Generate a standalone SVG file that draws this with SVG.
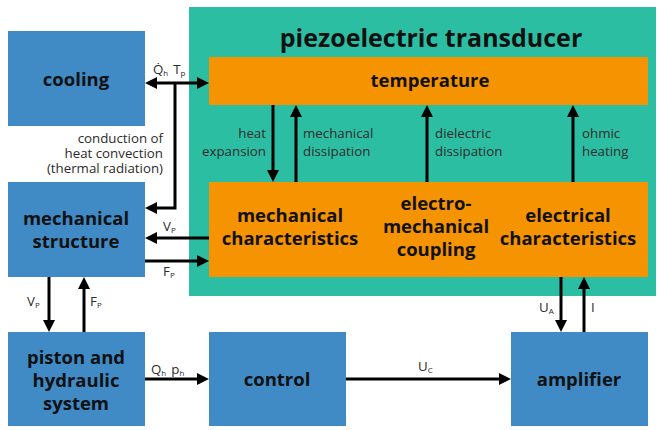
<svg xmlns="http://www.w3.org/2000/svg" width="660" height="430" viewBox="0 0 660 430">
<style>
.blue{fill:#408ac6}
.teal{fill:#2cbea3}
.orange{fill:#f59300}
.bt{font-family:"Open Sans","Noto Sans","Liberation Sans",sans-serif;font-weight:bold;font-size:18.5px;fill:#111;text-anchor:middle}
.lbl{font-family:"Open Sans","Noto Sans","Liberation Sans",sans-serif;font-size:13.3px;fill:#2b2b2b}
.sub{font-size:8px}
.ln{stroke:#000;stroke-width:3;fill:none}
.ar{marker-end:url(#ah)}
.ar2{marker-end:url(#ah);marker-start:url(#ah)}
</style>
<defs>
<marker id="ah" markerUnits="userSpaceOnUse" markerWidth="12" markerHeight="12" viewBox="0 0 12 12" refX="8" refY="6" orient="auto-start-reverse">
<path d="M0,0 L12,6 L0,12 z" fill="#000"/>
</marker>
</defs>

<g id="transducer">
<rect class="teal" x="189" y="7" width="467" height="289"/>
<text class="bt" x="431" y="47" style="font-size:25px">piezoelectric transducer</text>
</g>
<g id="temperature">
<rect class="orange" x="209" y="57" width="439" height="48"/>
<text class="bt" x="430" y="87">temperature</text>
</g>
<g id="characteristics">
<rect class="orange" x="209" y="182" width="439" height="95"/>
<text class="bt" x="290" y="222">mechanical</text>
<text class="bt" x="290" y="245">characteristics</text>
<text class="bt" x="436" y="210">electro-</text>
<text class="bt" x="436" y="233">mechanical</text>
<text class="bt" x="436" y="256">coupling</text>
<text class="bt" x="568" y="222">electrical</text>
<text class="bt" x="568" y="245">characteristics</text>
</g>
<g id="cooling">
<rect class="blue" x="8" y="31" width="137" height="95"/>
<text class="bt" x="76" y="86">cooling</text>
</g>
<g id="mechanical-structure">
<rect class="blue" x="8" y="182" width="137" height="95"/>
<text class="bt" x="76" y="225">mechanical</text>
<text class="bt" x="76" y="248">structure</text>
</g>
<g id="piston">
<rect class="blue" x="8" y="332" width="137" height="94"/>
<text class="bt" x="76" y="364">piston and</text>
<text class="bt" x="76" y="387">hydraulic</text>
<text class="bt" x="76" y="410">system</text>
</g>
<g id="control">
<rect class="blue" x="209" y="332" width="137" height="94"/>
<text class="bt" x="277" y="386">control</text>
</g>
<g id="amplifier">
<rect class="blue" x="511" y="332" width="137" height="94"/>
<text class="bt" x="579" y="386">amplifier</text>
</g>

<g id="connectors">
<path class="ln ar2" d="M149,83 L205,83"/>
<path class="ln ar" d="M175,83 L175,208 L149,208"/>
<path class="ln ar" d="M209,238 L149,238"/>
<path class="ln ar" d="M145,261 L205,261"/>
<path class="ln ar" d="M49,277 L49,328"/>
<path class="ln ar" d="M84,332 L84,281"/>
<path class="ln ar" d="M145,379 L205,379"/>
<path class="ln ar" d="M346,379 L507,379"/>
<path class="ln ar" d="M561,277 L561,328"/>
<path class="ln ar" d="M584,332 L584,281"/>
<path class="ln ar" d="M273,105 L273,178"/>
<path class="ln ar" d="M296,182 L296,109"/>
<path class="ln ar" d="M427,182 L427,109"/>
<path class="ln ar" d="M573,182 L573,109"/>
</g>

<g id="labels">
<text class="lbl" x="153" y="74">Q̇<tspan class="sub" dy="2">h</tspan><tspan dy="-2" dx="5">T</tspan><tspan class="sub" dy="2">p</tspan></text>
<text class="lbl" x="163" y="143" text-anchor="end">conduction of</text>
<text class="lbl" x="163" y="158" text-anchor="end">heat convection</text>
<text class="lbl" x="163" y="173" text-anchor="end">(thermal radiation)</text>
<text class="lbl" x="163" y="231">V<tspan class="sub" dy="2">P</tspan></text>
<text class="lbl" x="163" y="276">F<tspan class="sub" dy="2">P</tspan></text>
<text class="lbl" x="27" y="306">V<tspan class="sub" dy="2">P</tspan></text>
<text class="lbl" x="90" y="306">F<tspan class="sub" dy="2">P</tspan></text>
<text class="lbl" x="151" y="374">Q<tspan class="sub" dy="2">h</tspan><tspan dy="-2" dx="5">p</tspan><tspan class="sub" dy="2">h</tspan></text>
<text class="lbl" x="418" y="371">U<tspan class="sub" dy="2">C</tspan></text>
<text class="lbl" x="539" y="312">U<tspan class="sub" dy="2">A</tspan></text>
<text class="lbl" x="591" y="312">I</text>
<text class="lbl" x="266" y="138" text-anchor="end">heat</text>
<text class="lbl" x="266" y="156" text-anchor="end">expansion</text>
<text class="lbl" x="303" y="138">mechanical</text>
<text class="lbl" x="303" y="156">dissipation</text>
<text class="lbl" x="435" y="138">dielectric</text>
<text class="lbl" x="435" y="156">dissipation</text>
<text class="lbl" x="582" y="138">ohmic</text>
<text class="lbl" x="582" y="156">heating</text>
</g>
</svg>
